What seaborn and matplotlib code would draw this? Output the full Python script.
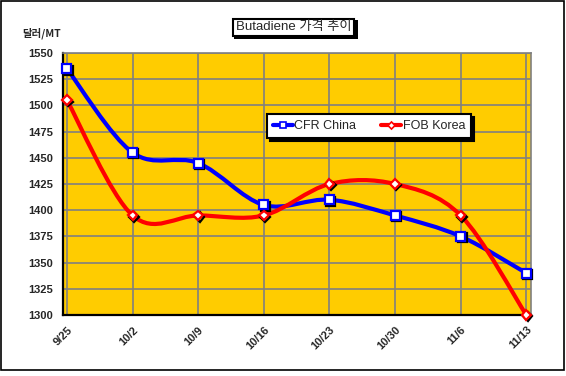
import numpy as np
import pandas as pd
import matplotlib
matplotlib.use('Agg')
import matplotlib.pyplot as plt
import matplotlib.patheffects as pe
import seaborn as sns
from matplotlib.path import Path
from matplotlib.patches import PathPatch, Rectangle
from matplotlib.lines import Line2D

# ── data ────────────────────────────────────────────
dates = ["9/25", "10/2", "10/9", "10/16", "10/23", "10/30", "11/6", "11/13"]
cfr_china = [1535, 1455, 1445, 1405, 1410, 1395, 1375, 1340]
fob_korea = [1505, 1395, 1395, 1395, 1425, 1425, 1395, 1300]
y_ticks = list(range(1300, 1551, 25))

df = pd.DataFrame({"x": np.arange(len(dates)), "CFR China": cfr_china, "FOB Korea": fob_korea})

sns.set_theme(style="white")
plt.rcParams['font.family'] = ['Liberation Sans', 'Noto Sans CJK KR', 'DejaVu Sans']

GOLD = "#FFCC00"
GRID = "#808080"


def smooth_path(xs, ys):
    # Excel-style smoothed line: cubic bezier through each point
    pts = np.column_stack([xs, ys]).astype(float)
    ext = np.vstack([pts[0], pts, pts[-1]])
    verts = [pts[0]]
    codes = [Path.MOVETO]
    for i in range(len(pts) - 1):
        p0, p1, p2, p3 = ext[i], ext[i + 1], ext[i + 2], ext[i + 3]
        c1 = p1 + (p2 - p0) / 6
        c2 = p2 - (p3 - p1) / 6
        verts += [c1, c2, p2]
        codes += [Path.CURVE4] * 3
    return Path(verts, codes)


fig = plt.figure(figsize=(5.66, 3.76), dpi=100)
ax = fig.add_axes([0.1113, 0.1622, 0.8267, 0.6968])
ax.set_facecolor(GOLD)

ax.set_xlim(-0.06, 7.07)
ax.set_ylim(1300, 1550)
ax.set_yticks(y_ticks)
ax.set_xticks(df["x"])
ax.set_xticklabels(dates, rotation=45, ha='right', rotation_mode='anchor')
ax.grid(True, color=GRID, linewidth=1.2, zorder=0)
ax.set_axisbelow(True)

for sp in ["top", "right"]:
    ax.spines[sp].set_color(GRID)
    ax.spines[sp].set_linewidth(1.2)
for sp in ["left", "bottom"]:
    ax.spines[sp].set_color("black")
    ax.spines[sp].set_linewidth(1.6)

ax.tick_params(axis='both', which='major', direction='out', length=3, width=1,
               color='black', labelsize=8, pad=4)
for lab in ax.get_xticklabels() + ax.get_yticklabels():
    lab.set_fontweight('bold')

# smoothed lines
series = [("CFR China", "#0000FF", 's', 6.5), ("FOB Korea", "#FF0000", 'D', 4.8)]
for name, col, mk, ms in series:
    ax.add_patch(PathPatch(smooth_path(df["x"], df[name]), fill=False, edgecolor=col,
                           linewidth=3, capstyle='round', zorder=3))

shadow = [pe.SimpleLineShadow(offset=(1, -1), shadow_color='black', alpha=1), pe.Normal()]
for name, col, mk, ms in series:
    sns.lineplot(data=df, x="x", y=name, ax=ax, linewidth=0, marker=mk, markersize=ms,
                 markerfacecolor='white', markeredgecolor=col, markeredgewidth=1.6,
                 legend=False, zorder=4, clip_on=False, path_effects=shadow)
ax.set_xlabel("")
ax.set_ylabel("")

handles = [Line2D([0], [0], color=col, lw=3, marker=mk, markersize=ms * 0.75,
                  markerfacecolor='white', markeredgecolor=col, markeredgewidth=1.2)
           for name, col, mk, ms in series]
leg = ax.legend(handles, [s[0] for s in series], ncol=2, loc='center',
                bbox_to_anchor=(0.654, 0.721), fontsize=9, frameon=True,
                fancybox=False, handlelength=1.6, handletextpad=0.1, columnspacing=2.0,
                borderpad=0.5, shadow={'color': 'black', 'alpha': 1})
leg.get_frame().set_edgecolor('black')
leg.get_frame().set_linewidth(1.5)
leg.set_zorder(6)

# title box
fig.text(0.5186, 0.927, "Butadiene 가격 추이", ha='center', va='center', fontsize=9.5,
         bbox=dict(boxstyle='square,pad=0.2', facecolor='white', edgecolor='black', linewidth=1.5))
fig.patches.append(Rectangle((0.414, 0.895), 0.218, 0.052, transform=fig.transFigure,
                             facecolor='black', edgecolor='none', zorder=-1))

# y unit label
fig.text(0.039, 0.912, "달러/MT", ha='left', va='center', fontsize=7.5, fontweight='bold',
         family=['Noto Sans CJK KR', 'DejaVu Sans'])

# chart border
fig.patches.append(Rectangle((0.002, 0.016), 0.995, 0.981, transform=fig.transFigure,
                             fill=False, edgecolor='black', linewidth=1.2))

fig.savefig("out.png", dpi=100)
